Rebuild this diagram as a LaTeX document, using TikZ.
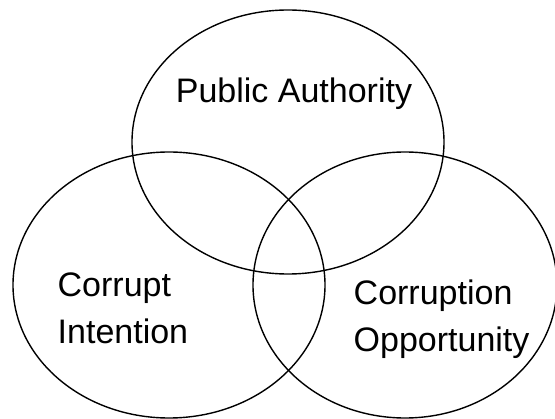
\documentclass[tikz,border=0pt]{standalone}
\usepackage{fontspec}
\setmainfont{Liberation Sans}

\begin{document}
\begin{tikzpicture}[
  x=1pt,y=-1pt,
  line width=1.4pt,
  every node/.style={font=\fontsize{34}{47.5}\selectfont},
  label/.style={inner sep=0pt,align=left}
]
\useasboundingbox (0,0) rectangle (555,419);

% the three sets
\draw (288,142) ellipse [x radius=156,y radius=132];
\draw (169,285) ellipse [x radius=156,y radius=133];
\draw (405,285) ellipse [x radius=152,y radius=133];

% set names
\node[label,anchor=base] (authority) at (294,103) {Public Authority};
\node[label,anchor=north west] (intention) at (57,272) {Corrupt\\Intention};
\node[label,anchor=north west] (opportunity) at (353,279) {Corruption\\Opportunity};

\end{tikzpicture}
\end{document}
